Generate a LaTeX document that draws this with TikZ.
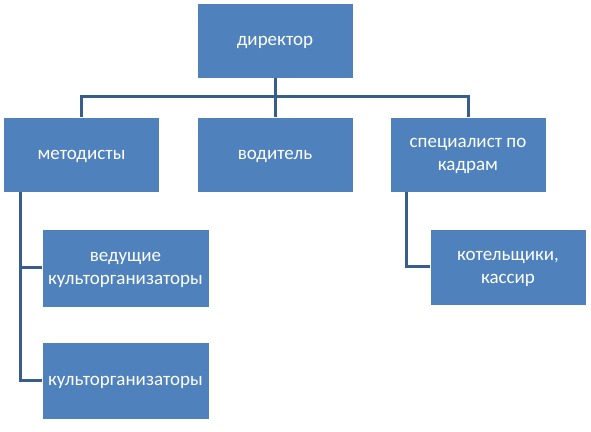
\documentclass[tikz,border=0pt]{standalone}
\usepackage{fontspec}
\setmainfont{Carlito}
\usepackage{tikz}
\definecolor{boxblue}{HTML}{4F81BD}
\definecolor{linkblue}{HTML}{385D8A}
\tikzstyle{unit} = [rectangle, fill=boxblue, draw=white, line width=0.6pt, text=white, align=center, font=\fontsize{19}{23}\selectfont, text depth=0pt, minimum width=156pt, minimum height=75pt, inner sep=0pt]
\tikzstyle{link} = [draw=linkblue, line width=3pt]

\begin{document}
\begin{tikzpicture}[x=1pt, y=1pt]
	  \useasboundingbox (0,0) rectangle (591,431);
	  \node (dir) at (275,390.5) [unit] {директор};
	  \node (met) at (81.5,276.5) [unit] {методисты};
	  \node (vod) at (275,276.5) [unit] {водитель};
	  \node (spec) at (468,276.5) [unit] {специалист по\\кадрам};
	  \node (ved) at (125.5,163) [unit, minimum width=167pt, minimum height=78pt] {ведущие\\культорганизаторы};
	  \node (kult) at (125.5,50.5) [unit, minimum width=167pt, minimum height=77pt] {культорганизаторы};
	  \node (kot) at (508,164) [unit, minimum height=76pt] {котельщики,\\кассир};

	  \coordinate (bus) at (275,334);
	  \coordinate (ml) at (20,239);
	  \coordinate (sr) at (406,239);

	  \draw [link] (dir.south) to (vod.north);
	  \draw [link] (met.north) |- (bus) -| (spec.north);
	  \draw [link] (ml) |- (ved.west);
	  \draw [link] (ml) |- (kult.west);
	  \draw [link] (sr) |- (kot.west);
	\end{tikzpicture}
\end{document}
